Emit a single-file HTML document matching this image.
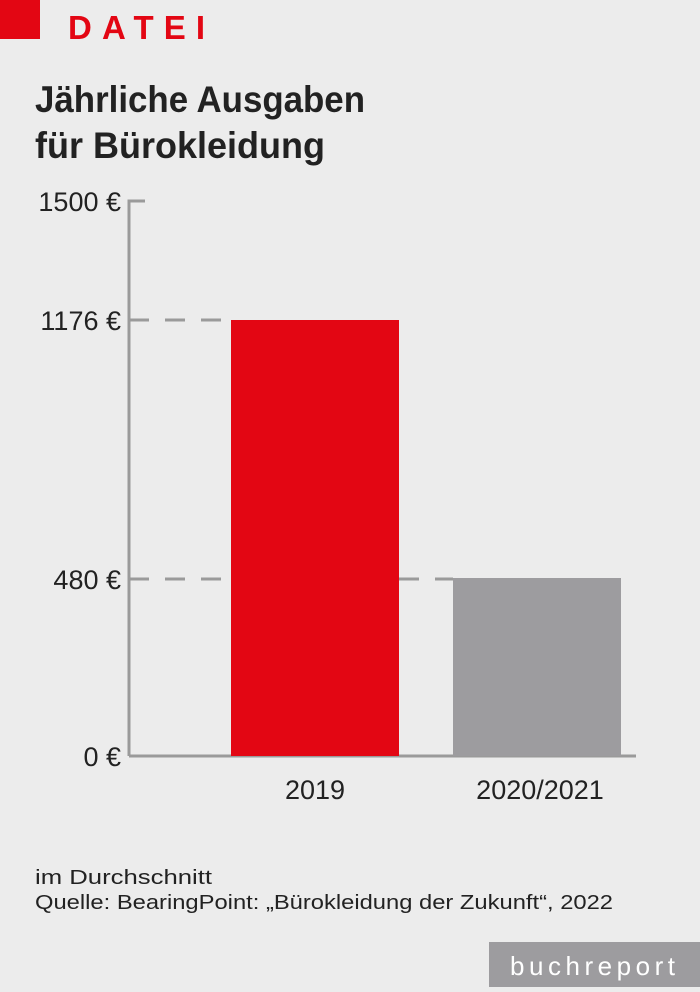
<!DOCTYPE html>
<html><head><meta charset="utf-8"><style>
html,body{margin:0;padding:0;background:#ececec;}
svg{display:block;}
</style></head><body>
<svg width="700" height="992" viewBox="0 0 700 992" xmlns="http://www.w3.org/2000/svg" font-family="Liberation Sans, sans-serif">
<rect width="700" height="992" fill="#ececec"/>
<rect x="0" y="0" width="40" height="39" fill="#e30613"/>
<text x="68" y="39" font-size="33" font-weight="bold" fill="#e30613" textLength="137" lengthAdjust="spacing">DATEI</text>
<text x="35" y="112" font-size="37" font-weight="bold" fill="#222" textLength="330" lengthAdjust="spacingAndGlyphs">Jährliche Ausgaben</text>
<text x="35" y="158" font-size="37" font-weight="bold" fill="#222" textLength="290" lengthAdjust="spacingAndGlyphs">für Bürokleidung</text>
<g stroke="#9a9a9a" stroke-width="3" fill="none">
<path d="M129 756 V201 H145"/>
<path d="M129 756 H636"/>
<g stroke-dasharray="20,16">
<path d="M129 320 H231"/>
<path d="M129 579 H231"/>
<path d="M399 579 H453"/>
</g>
</g>
<rect x="231" y="320" width="168" height="436" fill="#e30613"/>
<rect x="453" y="578" width="168" height="178" fill="#9d9c9f"/>
<g font-size="27" fill="#222" text-anchor="end">
<text x="121" y="211">1500 €</text>
<text x="121" y="330">1176 €</text>
<text x="121" y="589">480 €</text>
<text x="121" y="766">0 €</text>
</g>
<g font-size="27" fill="#222" text-anchor="middle">
<text x="315" y="799">2019</text>
<text x="540" y="799">2020/2021</text>
</g>
<text x="35" y="884" font-size="20" fill="#222" textLength="177" lengthAdjust="spacingAndGlyphs">im Durchschnitt</text>
<text x="35" y="909" font-size="20" fill="#222" textLength="578" lengthAdjust="spacingAndGlyphs">Quelle: BearingPoint: „Bürokleidung der Zukunft“, 2022</text>
<rect x="489" y="942" width="211" height="45" fill="#9d9c9f"/>
<text x="510" y="975" font-size="26" fill="#fff" textLength="165" lengthAdjust="spacing">buchreport</text>
</svg>
</body></html>
